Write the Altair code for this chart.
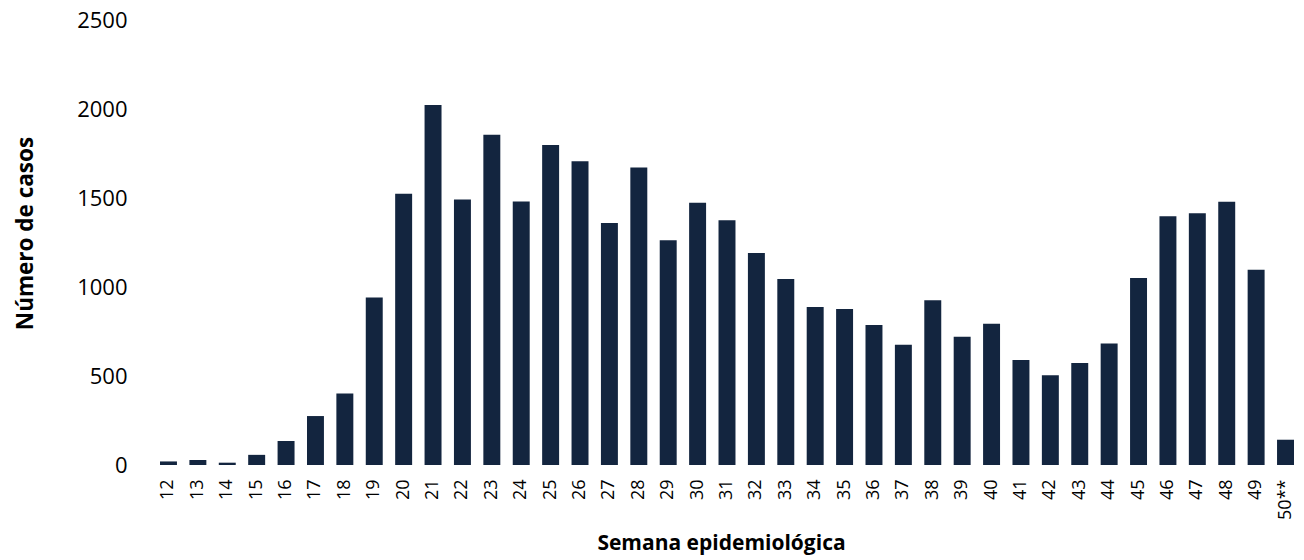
import altair as alt
import pandas as pd

semanas = ["12", "13", "14", "15", "16", "17", "18", "19", "20", "21", "22", "23", "24",
           "25", "26", "27", "28", "29", "30", "31", "32", "33", "34", "35", "36", "37",
           "38", "39", "40", "41", "42", "43", "44", "45", "46", "47", "48", "49", "50**"]
casos = [20, 28, 13, 57, 135, 275, 402, 941, 1524, 2022, 1491, 1856, 1481,
         1798, 1706, 1360, 1672, 1262, 1474, 1375, 1191, 1045, 888, 876, 787, 676,
         925, 721, 794, 590, 504, 573, 682, 1051, 1397, 1414, 1479, 1097, 142]
y_ticks = [0, 500, 1000, 1500, 2000, 2500]

df = pd.DataFrame({"semana": semanas, "casos": casos})

FONT = "Open Sans"

chart = alt.Chart(df).mark_bar(color="#13253f").encode(
    x=alt.X(
        "semana:N",
        sort=semanas,
        scale=alt.Scale(paddingInner=0.423, paddingOuter=0),
        axis=alt.Axis(
            title="Semana epidemiológica",
            labelAngle=-90,
            labelFont=FONT,
            labelFontSize=18,
            labelColor="#000000",
            labelPadding=14,
            ticks=False,
            domain=False,
            titleFont=FONT,
            titleFontSize=21,
            titleFontWeight="bold",
            titleColor="#000000",
            titleX=561,
            titleY=78,
            titleBaseline="middle",
        ),
    ),
    y=alt.Y(
        "casos:Q",
        scale=alt.Scale(domain=[0, 2500], nice=False),
        axis=alt.Axis(
            title="Número de casos",
            values=y_ticks,
            format="d",
            grid=False,
            ticks=False,
            domain=False,
            labelFont=FONT,
            labelFontSize=22,
            labelColor="#000000",
            labelPadding=33,
            titleFont=FONT,
            titleFontSize=22.5,
            titleFontWeight="bold",
            titleColor="#000000",
            titleX=-128,
            titleY=213,
            titleBaseline="alphabetic",
        ),
    ),
).properties(
    width=1134,
    height=445,
    autosize=alt.AutoSizeParams(type="none"),
    padding={"left": 152, "top": 12, "right": 2, "bottom": 90},
).configure_view(stroke=None)

chart.save("out.html", embed_options={"renderer": "svg", "actions": False})
